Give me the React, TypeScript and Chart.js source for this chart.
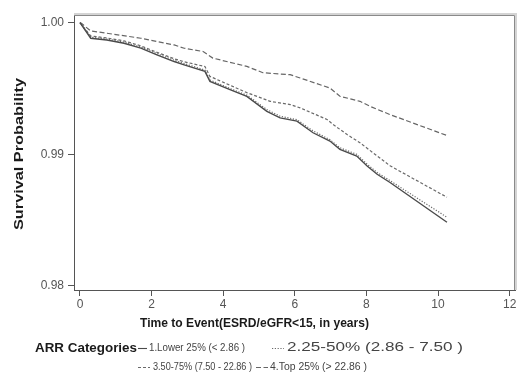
import React, { useEffect, useRef } from "react";
import { Chart, registerables } from "chart.js";

Chart.register(...registerables);

// Time (years) and survival probability for each ARR category
const time1 = [0, 0.3, 0.75, 1.23, 1.7, 2.15, 2.63, 2.91, 3.49, 3.63, 4.19, 4.66, 5.22, 5.59, 6.06, 6.51, 6.98, 7.26, 7.73, 8.02, 8.3, 8.66, 10.25];
const surv1 = [1.0, 0.99882, 0.99869, 0.99844, 0.99807, 0.99756, 0.99705, 0.9968, 0.9963, 0.99554, 0.99491, 0.9944, 0.99327, 0.99277, 0.99252, 0.99164, 0.99101, 0.99038, 0.98987, 0.98912, 0.98849, 0.98786, 0.98484];

const time2 = [0, 0.3, 0.75, 1.23, 1.7, 2.15, 2.63, 2.91, 3.49, 3.63, 4.19, 4.66, 5.22, 5.59, 6.06, 6.51, 6.98, 7.26, 7.73, 8.02, 8.3, 8.66, 10.25];
const surv2 = [1.0, 0.9989, 0.99876, 0.99852, 0.99815, 0.99765, 0.99715, 0.9969, 0.9964, 0.99565, 0.995, 0.9945, 0.9934, 0.9929, 0.99263, 0.99178, 0.99112, 0.9905, 0.99, 0.98925, 0.98862, 0.988, 0.98522];

const time3 = [0, 0.3, 0.75, 1.23, 1.7, 2.15, 2.63, 2.91, 3.49, 3.63, 4.66, 5.31, 5.87, 6.15, 6.9, 7.07, 7.46, 7.82, 8.18, 8.66, 10.25];
const surv3 = [1.0, 0.99899, 0.99884, 0.99862, 0.99824, 0.99775, 0.99726, 0.99703, 0.99667, 0.99592, 0.99469, 0.99403, 0.99378, 0.99353, 0.99265, 0.99227, 0.99151, 0.99088, 0.99013, 0.98913, 0.98674];

const time4 = [0, 0.04, 0.3, 0.75, 1.7, 2.63, 2.91, 3.44, 3.71, 4.66, 5.11, 5.87, 6.15, 6.98, 7.26, 7.82, 8.1, 8.66, 10.25];
const surv4 = [1.0, 0.99995, 0.99937, 0.9992, 0.99882, 0.99831, 0.99806, 0.99781, 0.99731, 0.99668, 0.9962, 0.99605, 0.9958, 0.99504, 0.99441, 0.99403, 0.99365, 0.99302, 0.99143];

const seriesLabels = [
  "1.Lower 25% (< 2.86 )",
  "2.25-50% (2.86 - 7.50 )",
  "3.50-75% (7.50 - 22.86 )",
  "4.Top 25% (> 22.86 )",
];
const xTicks = [0, 2, 4, 6, 8, 10, 12];
const yTicks = [0.98, 0.99, 1.0];
const xTitle = "Time to Event(ESRD/eGFR<15, in years)";
const yTitle = "Survival Probability";
const legendTitle = "ARR Categories";

const FONT = "'Liberation Sans', Arial, sans-serif";
const dashes: number[][] = [[], [1.2, 1.6], [3, 2], [5, 2.5]];
const colors = ["#4a4a4a", "#6a6a6a", "#6a6a6a", "#666666"];

function fitText(ctx: CanvasRenderingContext2D, text: string, x: number, y: number, w: number, font: string, color: string) {
  ctx.save();
  ctx.font = font;
  const m = ctx.measureText(text).width;
  ctx.translate(x, y);
  ctx.scale(w / m, 1);
  ctx.fillStyle = color;
  ctx.textAlign = "left";
  ctx.textBaseline = "middle";
  ctx.fillText(text, 0, 0);
  ctx.restore();
}

function sample(ctx: CanvasRenderingContext2D, x1: number, x2: number, y: number, i: number) {
  ctx.save();
  ctx.strokeStyle = colors[i];
  ctx.lineWidth = 1.1;
  ctx.setLineDash(dashes[i]);
  ctx.beginPath();
  ctx.moveTo(x1, y + 0.5);
  ctx.lineTo(x2, y + 0.5);
  ctx.stroke();
  ctx.restore();
}

const decor = {
  id: "decor",
  beforeDatasetsDraw(chart: any) {
    const { ctx, chartArea: a } = chart;
    ctx.save();
    ctx.strokeStyle = "#d4d4d4";
    ctx.lineWidth = 2;
    ctx.beginPath();
    ctx.moveTo(a.left, a.top - 1);
    ctx.lineTo(a.right + 1, a.top - 1);
    ctx.lineTo(a.right + 1, a.bottom);
    ctx.stroke();
    ctx.strokeStyle = "#8a8a8a";
    ctx.lineWidth = 1;
    ctx.beginPath();
    ctx.moveTo(a.left, a.top + 0.5);
    ctx.lineTo(a.right - 0.5, a.top + 0.5);
    ctx.lineTo(a.right - 0.5, a.bottom);
    ctx.stroke();
    ctx.restore();
  },
  afterDraw(chart: any) {
    const ctx: CanvasRenderingContext2D = chart.ctx;
    // axis titles
    fitText(ctx, xTitle, 140, 323, 229, `bold 13px ${FONT}`, "#1a1a1a");
    ctx.save();
    ctx.translate(19, 230);
    ctx.rotate(-Math.PI / 2);
    fitText(ctx, yTitle, 0, 0, 152, `bold 13px ${FONT}`, "#1a1a1a");
    ctx.restore();
    // legend
    fitText(ctx, legendTitle, 35, 348, 102, `bold 13px ${FONT}`, "#1a1a1a");
    sample(ctx, 138, 147, 348, 0);
    fitText(ctx, seriesLabels[0], 149, 348, 96, `10px ${FONT}`, "#444");
    sample(ctx, 272, 284, 348, 1);
    fitText(ctx, seriesLabels[1], 287, 348, 176, `12px ${FONT}`, "#444");
    sample(ctx, 138, 150, 367, 2);
    fitText(ctx, seriesLabels[2], 153, 367, 99, `10px ${FONT}`, "#444");
    sample(ctx, 256, 268, 367, 3);
    fitText(ctx, seriesLabels[3], 270, 367, 97, `10px ${FONT}`, "#444");
  },
};

export default function App() {
  const ref = useRef<HTMLCanvasElement>(null);
  useEffect(() => {
    if (!ref.current) return;
    const mk = (t: number[], s: number[]) => t.map((x, i) => ({ x, y: s[i] }));
    const sets = [mk(time1, surv1), mk(time2, surv2), mk(time3, surv3), mk(time4, surv4)];
    const chart = new Chart(ref.current, {
      type: "line",
      data: {
        datasets: sets.map((d, i) => ({
          label: seriesLabels[i],
          data: d,
          borderColor: colors[i],
          borderWidth: i === 0 ? 1.4 : 1.2,
          borderDash: dashes[i],
          pointRadius: 0,
          tension: 0,
          fill: false,
        })),
      },
      options: {
        animation: false,
        responsive: false,
        events: [],
        layout: { padding: { top: 15, right: 2, left: 0, bottom: 0 } },
        plugins: { legend: { display: false }, tooltip: { enabled: false } },
        scales: {
          x: {
            type: "linear",
            min: -0.167,
            max: 12.15,
            afterBuildTicks: (s: any) => {
              s.ticks = xTicks.map((v) => ({ value: v }));
            },
            afterFit: (s: any) => {
              s.height = 93;
              s.paddingLeft = 0;
              s.paddingRight = 0;
            },
            grid: { display: true, drawOnChartArea: false, drawTicks: true, tickLength: 6, tickColor: "#555" },
            border: { display: true, color: "#555", width: 1 },
            ticks: {
              color: "#555",
              font: { family: FONT, size: 12 },
              padding: 1,
              maxRotation: 0,
              autoSkip: false,
              callback: (v: any) => String(v),
            },
          },
          y: {
            type: "linear",
            min: 0.979696,
            max: 1.000585,
            afterBuildTicks: (s: any) => {
              s.ticks = yTicks.map((v) => ({ value: v }));
            },
            afterFit: (s: any) => {
              s.width = 74;
              s.paddingTop = 0;
              s.paddingBottom = 0;
            },
            grid: { display: true, drawOnChartArea: false, drawTicks: true, tickLength: 6, tickColor: "#555" },
            border: { display: true, color: "#555", width: 1 },
            ticks: {
              color: "#555",
              font: { family: FONT, size: 12 },
              padding: 4,
              autoSkip: false,
              callback: (v: any) => Number(v).toFixed(2),
            },
          },
        },
      },
      plugins: [decor],
    });
    return () => chart.destroy();
  }, []);
  return (
    <div style={{ position: "absolute", left: 0, top: 0, width: 517, height: 383, background: "#fff" }}>
      <canvas ref={ref} width={517} height={383} style={{ display: "block" }} />
    </div>
  );
}
